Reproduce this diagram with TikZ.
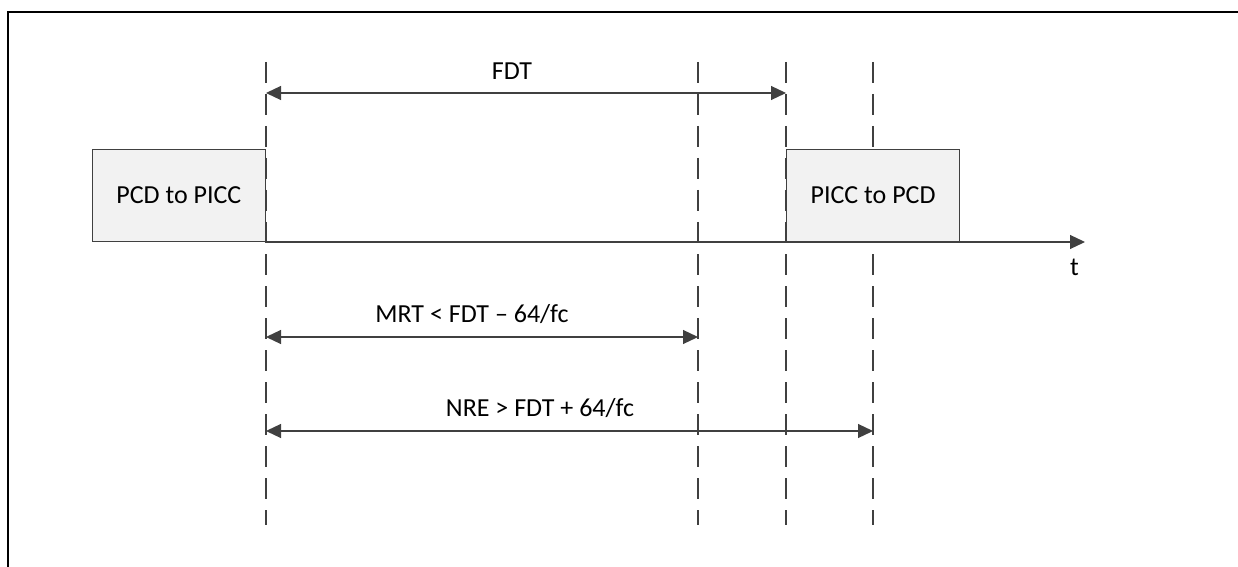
\documentclass[tikz,border=0pt]{standalone}
\usepackage{fontspec}
\setmainfont{Carlito}
\usetikzlibrary{arrows.meta}
\usetikzlibrary{positioning}
\tikzset{frame/.style = {draw, mgray, fill=mfill, line width = 0.6pt, text = black, minimum width = 86.5pt, minimum height = 46pt, inner sep = 0}}
\tikzset{marker/.style = {mgray, line width = 1.3pt, dash pattern = on 10.5pt off 5.5pt}}
\tikzset{span/.style = {mgray, line width = 0.6pt, {Triangle[length = 7.5pt, width = 7pt]}-{Triangle[length = 7.5pt, width = 7pt]}}}
\definecolor{mgray}{HTML}{404040}
\definecolor{mfill}{HTML}{F2F2F2}

\begin{document}
\begin{tikzpicture}[x = 0.5pt, y = -0.5pt, font = \fontsize{13}{15}\selectfont]
       \useasboundingbox (0, 0) rectangle (1238, 567);
       \draw [line width = 1.1pt] (8, 567) -- (8, 12) -- (1238, 12);

       % time markers
       \foreach \name/\x in {m0/266, m1/698, m2/786, m3/873} {
              \coordinate (\name top) at (\x, 62);
              \coordinate (\name bot) at (\x, 525);
              \draw [marker] (\name top) -- (\name bot);
       }

       % frames on the time axis
       \node [frame, anchor = south east] (pcd) at (266, 242) {PCD to PICC};
       \node [frame, anchor = south west] (picc) at (786, 242) {PICC to PCD};
       \coordinate (tend) at (1085, 242);
       \draw [mgray, line width = 0.6pt, -{Triangle[length = 7.5pt, width = 7pt]}] (pcd.south east) -- (tend);
       \node [anchor = north east] (tlabel) at (1086, 252) {t};

       % spans
       \draw [span] (m0top |- 0, 93) coordinate (fdtL) -- (m2top |- 0, 93) coordinate (fdtR);
       \node [above = 3pt] (fdt) at (512, 93) {FDT};

       \draw [span] (m0top |- 0, 337) coordinate (mrtL) -- (m1top |- 0, 337) coordinate (mrtR);
       \node [above = 3pt] (mrt) at (472, 337) {MRT < FDT – 64/fc};

       \draw [span] (m0top |- 0, 431) coordinate (nreL) -- (m3top |- 0, 431) coordinate (nreR);
       \node [above = 3pt] (nre) at (540, 431) {NRE > FDT + 64/fc};
    \end{tikzpicture}
\end{document}
